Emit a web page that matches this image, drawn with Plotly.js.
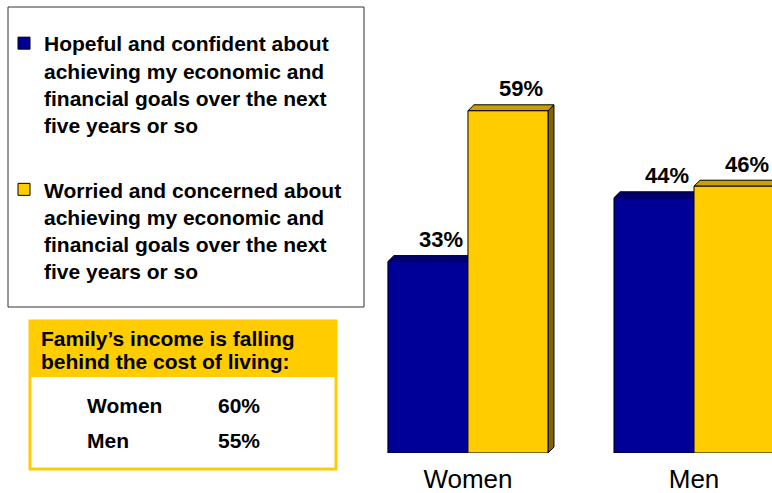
<!DOCTYPE html>
<html>
<head>
<meta charset="utf-8">
<script src="https://cdn.plot.ly/plotly-3.0.1.min.js"></script>
<style>
  html, body { margin: 0; padding: 0; background: #fff; }
  #chart { width: 772px; height: 493px; }
</style>
</head>
<body>
<div id="chart"></div>
<script>
// data
const categories = ['Women', 'Men'];
const hopeful = [33, 44];
const worried = [59, 46];
const seriesNames = [
    'Hopeful and confident about<br>achieving my economic and<br>financial goals over the next<br>five years or so',
    'Worried and concerned about<br>achieving my economic and<br>financial goals over the next<br>five years or so'
];
const tableTitle = ['Family’s income is falling', 'behind the cost of living:'];
const tableLabels = ['Women', 'Men'];
const tableValues = [60, 55];

// look
const FONT = 'Liberation Sans, Arial, sans-serif';
const front = ['#000099', '#FFCC00'];
const topFace = ['#00006e', '#c9a000'];
const sideFace = ['#00004d', '#7f6500'];
const barW = 0.354;      // width of one bar in category units
const dx = 0.0265;       // 3d depth, x (category units)
const dy = 1.03;         // 3d depth, y (percent units)

// plot area in pixels, used to put the side boxes in paper coords
const L = 380, W = 392, H = 453;
function px(x) { return (x - L) / W; }
function py(y) { return (H - y) / H; }

let series = [hopeful, worried];
let traces = [];
let shapes = [];
let annotations = [];

for (let s = 0; s < series.length; s++) {
    traces.push({
        type: 'bar',
        x: categories,
        y: series[s],
        name: seriesNames[s],
        legendgroup: 'g' + s,
        marker: { color: front[s], line: { color: '#000', width: 1 } },
        hoverinfo: 'none'
    });
    for (let i = 0; i < categories.length; i++) {
        let x0 = i - barW + s * barW;
        let x1 = x0 + barW;
        let v = series[s][i];
        // right side face
        shapes.push({
            type: 'path', xref: 'x', yref: 'y', layer: 'below',
            path: `M${x1},0 L${x1 + dx},${dy} L${x1 + dx},${v + dy} L${x1},${v} Z`,
            fillcolor: sideFace[s], line: { color: '#000', width: 1 }
        });
        // top face
        shapes.push({
            type: 'path', xref: 'x', yref: 'y', layer: 'below',
            path: `M${x0},${v} L${x0 + dx},${v + dy} L${x1 + dx},${v + dy} L${x1},${v} Z`,
            fillcolor: topFace[s], line: { color: '#000', width: 1 }
        });
        annotations.push({
            x: (x0 + x1) / 2, y: v, xref: 'x', yref: 'y',
            text: v + '%', showarrow: false,
            xshift: 13, yshift: 22, yanchor: 'middle',
            font: { family: FONT, size: 22, color: '#000', weight: 'bold' }
        });
    }
}

// legend frame
shapes.push({
    type: 'rect', xref: 'paper', yref: 'paper',
    x0: px(8), x1: px(364), y0: py(307), y1: py(7),
    line: { color: '#333', width: 1 }, fillcolor: 'rgba(0,0,0,0)'
});

// income box
shapes.push({
    type: 'rect', xref: 'paper', yref: 'paper',
    x0: px(30), x1: px(336), y0: py(377), y1: py(321),
    line: { width: 0 }, fillcolor: '#FFCC00'
});
shapes.push({
    type: 'rect', xref: 'paper', yref: 'paper',
    x0: px(30), x1: px(336), y0: py(469), y1: py(321),
    line: { color: '#FFCC00', width: 3 }, fillcolor: 'rgba(0,0,0,0)'
});
for (let k = 0; k < tableTitle.length; k++) {
    annotations.push({
        xref: 'paper', yref: 'paper', x: px(39), y: py(338 + k * 23),
        xanchor: 'left', yanchor: 'middle', showarrow: false,
        text: tableTitle[k],
        font: { family: FONT, size: 21, color: '#000', weight: 'bold' }
    });
}
for (let k = 0; k < tableLabels.length; k++) {
    annotations.push({
        xref: 'paper', yref: 'paper', x: px(85), y: py(405 + k * 35),
        xanchor: 'left', yanchor: 'middle', showarrow: false,
        text: tableLabels[k],
        font: { family: FONT, size: 21, color: '#000', weight: 'bold' }
    });
    annotations.push({
        xref: 'paper', yref: 'paper', x: px(216), y: py(405 + k * 35),
        xanchor: 'left', yanchor: 'middle', showarrow: false,
        text: tableValues[k] + '%',
        font: { family: FONT, size: 21, color: '#000', weight: 'bold' }
    });
}

let layout = {
    width: 772,
    height: 493,
    margin: { l: L, r: 0, t: 0, b: 493 - H, pad: 0 },
    paper_bgcolor: '#fff',
    plot_bgcolor: '#fff',
    barmode: 'group',
    bargap: 1 - 2 * barW,
    bargroupgap: 0,
    xaxis: {
        type: 'category',
        range: [-0.389, 1.345],
        showgrid: false, zeroline: false, showline: false, ticks: '',
        ticklabelstandoff: 8,
        automargin: false,
        tickfont: { family: FONT, size: 26, color: '#000' }
    },
    yaxis: {
        range: [0, 78.1],
        showgrid: false, zeroline: false, showline: false,
        showticklabels: false, ticks: ''
    },
    showlegend: true,
    legend: {
        xref: 'container', yref: 'container',
        x: 4 / 772, y: 1 - 23 / 493,
        xanchor: 'left', yanchor: 'top',
        valign: 'top',
        maxheight: 420,
        tracegroupgap: 34,
        traceorder: 'grouped',
        bgcolor: 'rgba(0,0,0,0)',
        borderwidth: 0,
        font: { family: FONT, size: 21, color: '#000', weight: 'bold' }
    },
    shapes: shapes,
    annotations: annotations
};

Plotly.newPlot('chart', traces, layout, { displayModeBar: false, staticPlot: true });
</script>
</body>
</html>
